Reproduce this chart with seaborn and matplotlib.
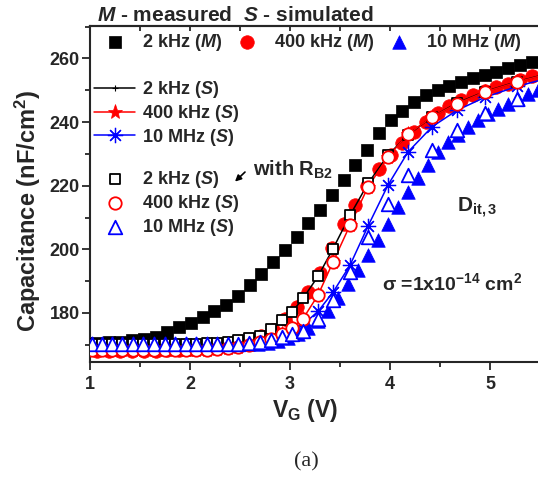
import matplotlib
matplotlib.use("Agg")
import matplotlib.pyplot as plt
import seaborn as sns
from matplotlib.ticker import MultipleLocator

# Gate voltage of the measured sweeps (V)
V_MEAS = [0.95, 1.07, 1.19, 1.30, 1.42, 1.54, 1.66, 1.77, 1.89, 2.01,
          2.13, 2.24, 2.36, 2.48, 2.60, 2.71, 2.83, 2.95, 3.07, 3.18,
          3.30, 3.42, 3.54, 3.65, 3.77, 3.89, 4.01, 4.12, 4.24, 4.36,
          4.48, 4.59, 4.71, 4.83, 4.95, 5.06, 5.18, 5.30, 5.42]
C_2KHZ_M = [170.5, 170.6, 170.8, 171.0, 171.4, 171.9, 172.5, 174.0, 175.6, 176.9,
            178.7, 180.5, 182.4, 185.4, 188.8, 192.4, 196.0, 199.7, 203.9, 208.2,
            212.4, 217.0, 221.8, 226.4, 231.2, 236.6, 240.5, 243.6, 246.3, 248.4,
            250.1, 251.5, 252.5, 253.8, 254.7, 255.7, 256.9, 257.9, 258.8]
C_400KHZ_M = [168.0, 168.0, 168.0, 168.0, 168.0, 168.1, 168.2, 168.3, 168.5, 168.7,
              169.1, 169.7, 170.3, 170.8, 171.6, 172.7, 174.7, 178.0, 182.0, 186.5,
              192.5, 200.5, 208.0, 214.0, 219.8, 225.3, 229.6, 233.3, 237.0, 240.0,
              242.7, 245.0, 246.8, 248.4, 249.8, 251.0, 252.1, 253.3, 254.5]

V_MEAS_10M = [0.98, 1.08, 1.18, 1.28, 1.38, 1.48, 1.58, 1.68, 1.78, 1.88,
              1.98, 2.08, 2.18, 2.28, 2.38, 2.48, 2.58, 2.68, 2.78, 2.88,
              2.98, 3.08, 3.18, 3.28, 3.38, 3.48, 3.58, 3.68, 3.78, 3.88,
              3.98, 4.08, 4.18, 4.28, 4.38, 4.48, 4.58, 4.68, 4.78, 4.88,
              4.98, 5.08, 5.18, 5.28, 5.38, 5.48]
C_10MHZ_M = [169.8, 169.8, 169.8, 169.8, 169.8, 169.8, 169.8, 169.8, 169.8, 169.8,
             169.8, 169.9, 169.9, 170.0, 170.0, 170.1, 170.2, 170.4, 170.7, 171.2,
             172.0, 173.3, 175.2, 177.6, 180.5, 184.6, 189.2, 193.5, 198.2, 203.0,
             208.0, 213.2, 218.0, 222.3, 226.4, 230.6, 233.8, 236.0, 238.5, 240.7,
             242.4, 244.1, 245.8, 247.2, 248.7, 250.0]

# Simulated curves
V_SIM = [1.02, 1.12, 1.22, 1.32, 1.43, 1.53, 1.64, 1.75, 1.85, 1.96,
         2.06, 2.17, 2.27, 2.38, 2.48, 2.59, 2.70, 2.81, 2.92, 3.02,
         3.13, 3.28, 3.43, 3.60, 3.78, 3.98, 4.18, 4.42, 4.67, 4.95,
         5.27, 5.60]
C_2KHZ_S = [170.4, 170.4, 170.4, 170.4, 170.4, 170.4, 170.4, 170.4, 170.4, 170.4,
            170.4, 170.5, 170.7, 171.0, 171.4, 172.0, 172.9, 175.0, 177.8, 180.3,
            184.6, 191.5, 200.2, 210.7, 220.7, 229.6, 236.0, 241.6, 246.0, 249.6,
            252.7, 255.4]
C_400KHZ_S = [168.3, 168.3, 168.3, 168.3, 168.3, 168.3, 168.3, 168.3, 168.3, 168.3,
              168.4, 168.5, 168.7, 169.0, 169.4, 170.0, 170.8, 171.8, 173.3, 175.3,
              178.2, 185.6, 196.0, 207.6, 219.6, 229.1, 236.2, 241.6, 245.8, 249.5,
              252.6, 255.3]
C_10MHZ_S = [170.4, 170.4, 170.4, 170.4, 170.4, 170.4, 170.4, 170.4, 170.4, 170.4,
             170.4, 170.4, 170.4, 170.4, 170.4, 170.6, 170.9, 171.5, 172.5, 174.0,
             176.3, 180.5, 186.5, 195.0, 207.3, 220.2, 230.6, 238.5, 243.7, 247.8,
             251.2, 254.0]
# simulated with R_B2 (open symbols)
C_2KHZ_S_RB2 = [170.4, 170.4, 170.4, 170.4, 170.4, 170.4, 170.4, 170.4, 170.4, 170.4,
                170.4, 170.5, 170.7, 171.0, 171.4, 172.0, 172.9, 175.0, 177.8, 180.3,
                184.6, 191.5, 200.2, 210.7, 220.7, 229.6, 236.0, 241.6, 246.0, 249.6,
                252.7, 255.4]
C_400KHZ_S_RB2 = [168.3, 168.3, 168.3, 168.3, 168.3, 168.3, 168.3, 168.3, 168.3, 168.3,
                  168.4, 168.5, 168.7, 169.0, 169.4, 170.0, 170.8, 171.8, 173.3, 175.3,
                  178.2, 185.6, 196.0, 207.6, 219.6, 229.1, 236.2, 241.6, 245.8, 249.5,
                  252.6, 255.3]
C_10MHZ_S_RB2 = [170.3, 170.3, 170.3, 170.3, 170.3, 170.3, 170.3, 170.3, 170.3, 170.3,
                 170.3, 170.3, 170.3, 170.3, 170.3, 170.5, 170.8, 171.4, 172.3, 173.4,
                 174.4, 178.2, 184.0, 192.9, 203.9, 214.4, 223.5, 231.2, 237.5, 242.7,
                 247.4, 251.2]

LABELS_M = [r"2 kHz $\mathit{(M)}$", r"400 kHz $\mathit{(M)}$", r"10 MHz $\mathit{(M)}$"]
LABELS_S = [r"2 kHz $\mathit{(S)}$", r"400 kHz $\mathit{(S)}$", r"10 MHz $\mathit{(S)}$"]

BLUE = "#0000ff"
RED = "#ff0000"

sns.set_style("ticks")
plt.rcParams["font.family"] = ["Liberation Sans", "DejaVu Sans"]
plt.rcParams["font.weight"] = "bold"
plt.rcParams["mathtext.fontset"] = "custom"
plt.rcParams["mathtext.rm"] = "Liberation Sans:bold"
plt.rcParams["mathtext.bf"] = "Liberation Sans:bold"
plt.rcParams["mathtext.it"] = "Liberation Sans:italic:bold"
plt.rcParams["mathtext.sf"] = "Liberation Sans:bold"

fig = plt.figure(figsize=(5.38, 4.78), dpi=100)
ax = fig.add_axes([0.1673, 0.2427, 0.8364, 0.7029])

# measured (filled)
h_meas = []
sns.scatterplot(x=V_MEAS, y=C_2KHZ_M, marker="s", s=75, color="black",
                edgecolor="black", linewidth=0.5, ax=ax, zorder=2)
h_meas.append(ax.collections[-1])
sns.scatterplot(x=V_MEAS, y=C_400KHZ_M, marker="o", s=95, color=RED,
                edgecolor=RED, linewidth=0.5, ax=ax, zorder=2)
h_meas.append(ax.collections[-1])
sns.scatterplot(x=V_MEAS_10M, y=C_10MHZ_M, marker="^", s=95, color=BLUE,
                edgecolor=BLUE, linewidth=0.5, ax=ax, zorder=2)
h_meas.append(ax.collections[-1])

# simulated (lines)
h_line = []
sns.lineplot(x=V_SIM, y=C_2KHZ_S, color="black", lw=1.1, marker="+", ms=4,
             mec="black", mew=0.8, ax=ax, zorder=3)
h_line.append(ax.lines[-1])
sns.lineplot(x=V_SIM, y=C_400KHZ_S, color=RED, lw=1.1, marker="*", ms=11,
             mec=RED, mew=0.5, ax=ax, zorder=3)
h_line.append(ax.lines[-1])
sns.lineplot(x=V_SIM, y=C_10MHZ_S, color=BLUE, lw=1.1, marker=(8, 2, 0), ms=11,
             mec=BLUE, mew=0.9, ax=ax, zorder=3)
h_line.append(ax.lines[-1])

# simulated with R_B2 (open)
h_open = []
sns.scatterplot(x=V_SIM, y=C_2KHZ_S_RB2, marker="s", s=60, color="white",
                edgecolor="black", linewidth=1.3, ax=ax, zorder=4)
h_open.append(ax.collections[-1])
sns.scatterplot(x=V_SIM, y=C_400KHZ_S_RB2, marker="o", s=80, color="white",
                edgecolor=RED, linewidth=1.3, ax=ax, zorder=4)
h_open.append(ax.collections[-1])
sns.scatterplot(x=V_SIM, y=C_10MHZ_S_RB2, marker="^", s=95, color="white",
                edgecolor=BLUE, linewidth=1.3, ax=ax, zorder=4)
h_open.append(ax.collections[-1])

if ax.get_legend() is not None:
    ax.get_legend().remove()

ax.set_xlim(1, 5.5)
ax.set_ylim(164.6, 270.2)
ax.xaxis.set_major_locator(MultipleLocator(1))
ax.xaxis.set_minor_locator(MultipleLocator(0.5))
ax.yaxis.set_major_locator(MultipleLocator(20))
ax.yaxis.set_minor_locator(MultipleLocator(10))
ax.tick_params(which="major", direction="out", length=6, width=1.3, labelsize=13)
ax.tick_params(which="minor", direction="out", length=3.5, width=1.3)
ax.tick_params(axis="y", pad=1.5)
ax.tick_params(axis="x", pad=4)
for sp in ax.spines.values():
    sp.set_linewidth(1.5)
top = ax.secondary_xaxis("top")
top.xaxis.set_major_locator(MultipleLocator(0.5))
top.tick_params(direction="in", length=3.5, width=1.3, labeltop=False)
top.spines["top"].set_linewidth(1.5)

ax.set_xlabel(r"$\mathrm{V}_\mathrm{G}$ (V)", fontsize=16.5, fontweight="bold")
ax.set_ylabel(r"Capacitance (nF/cm$^\mathrm{2}$)", fontsize=17, fontweight="bold")
ax.xaxis.set_label_coords(0.478, -0.103)
ax.yaxis.set_label_coords(-0.105, 0.45)

# legends
leg_kw = dict(frameon=False, borderpad=0, borderaxespad=0, fontsize=13)
fig.legend(h_meas, LABELS_M, loc="center left", bbox_to_anchor=(106 / 538, 1 - 42.7 / 478),
           ncol=3, handlelength=1.0, handletextpad=0.98, columnspacing=0.9, **leg_kw)
fig.legend(h_line, LABELS_S, loc="center left", bbox_to_anchor=(94.3 / 538, 1 - 113.5 / 478),
           handlelength=2.25, handletextpad=0.37, labelspacing=0.15, **leg_kw)
fig.legend(h_open, LABELS_S, loc="center left", bbox_to_anchor=(106 / 538, 1 - 203.3 / 478),
           handlelength=1.0, handletextpad=0.98, labelspacing=0.15, **leg_kw)

# annotations
ax.annotate("", xy=(2.43, 220.7), xytext=(2.57, 224.9),
            arrowprops=dict(arrowstyle="-|>", color="black", lw=1.2, mutation_scale=9))
ax.text(2.63, 223.3, r"with R$_\mathrm{B2}$", fontsize=14.5, va="baseline")
ax.text(4.667, 211.8, r"D$_\mathrm{it,3}$", fontsize=15, va="baseline")
ax.text(3.917, 187.1, r"σ =1x10$^\mathrm{-14}$ cm$^\mathrm{2}$", fontsize=14, va="baseline")

fig.text(96.7 / 538, 1 - 20.7 / 478, r"$\mathit{M}$ - measured  $\mathit{S}$ - simulated",
         fontsize=15, fontweight="bold", va="baseline", ha="left")
fig.text(306 / 538, 1 - 461.5 / 478, "(a)", fontsize=16, fontweight="normal",
         family="Liberation Serif", ha="center", va="center")

fig.savefig("out.png", dpi=100)
